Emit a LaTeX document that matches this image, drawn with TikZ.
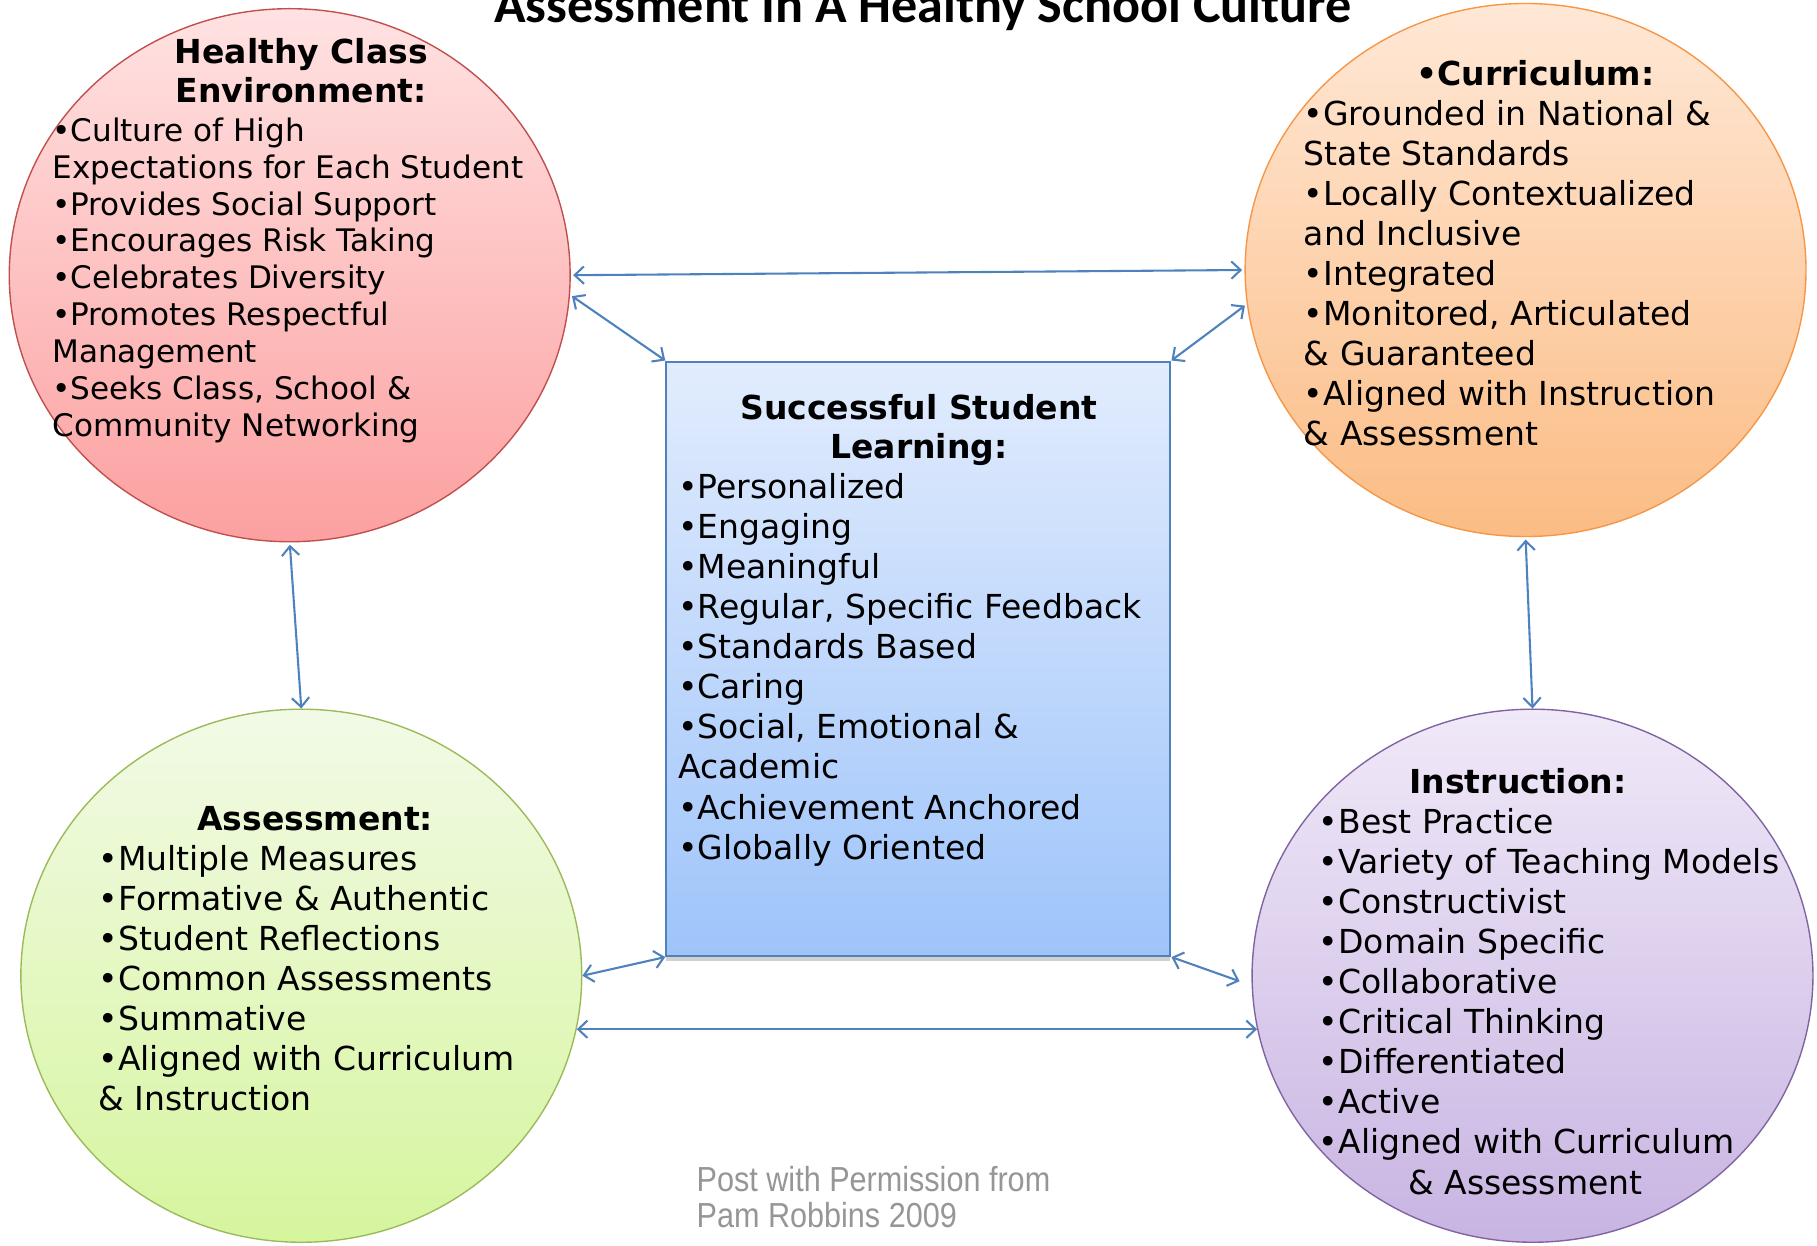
\documentclass[tikz,border=0pt]{standalone}
\usepackage{fontspec}
\setmainfont{DejaVu Sans}
\newfontfamily\titlefont{Carlito}
\newfontfamily\footfont[FakeStretch=0.88]{Liberation Sans}
\usetikzlibrary{arrows.meta,shapes.geometric,shadows}
\definecolor{arrowblue}{RGB}{79,129,189}
\definecolor{redborder}{RGB}{192,80,77}
\definecolor{redtop}{RGB}{255,226,226}
\definecolor{redbot}{RGB}{252,160,160}
\definecolor{orangeborder}{RGB}{247,150,70}
\definecolor{orangetop}{RGB}{255,232,214}
\definecolor{orangebot}{RGB}{251,188,132}
\definecolor{greenborder}{RGB}{155,187,89}
\definecolor{greentop}{RGB}{242,250,230}
\definecolor{greenbot}{RGB}{214,245,158}
\definecolor{purpleborder}{RGB}{128,100,162}
\definecolor{purpletop}{RGB}{240,233,248}
\definecolor{purplebot}{RGB}{200,180,226}
\definecolor{boxtop}{RGB}{226,236,253}
\definecolor{boxbot}{RGB}{158,196,250}
\definecolor{footgray}{RGB}{150,150,150}
\begin{document}
\begin{tikzpicture}[x=1pt,y=-1pt,
  circ/.style={ellipse, minimum width=484pt, minimum height=460pt, inner sep=0pt, line width=1.2pt},
  bodytext/.style={inner sep=0pt, anchor=base west, font=\fontsize{28.5}{34.6}\selectfont},
  headtext/.style={inner sep=0pt, anchor=base, font=\bfseries\fontsize{28.5}{33.5}\selectfont},
  link/.style={draw=arrowblue, line width=1.8pt, >={Straight Barb[length=8pt,width=15pt]}, <->},
]
\useasboundingbox (0,0) rectangle (1568,1075);
\clip (0,0) rectangle (1568,1075);

% shapes
\node[circ, draw=redborder, top color=redtop, bottom color=redbot] (red) at (250,237.5) {};
\node[circ, draw=orangeborder, top color=orangetop, bottom color=orangebot] (orange) at (1316.5,233) {};
\node[circ, draw=greenborder, top color=greentop, bottom color=greenbot] (green) at (260,842) {};
\node[circ, draw=purpleborder, top color=purpletop, bottom color=purplebot] (purple) at (1322.5,842) {};
\node[draw=arrowblue, line width=1.8pt, top color=boxtop, bottom color=boxbot,
      minimum width=435pt, minimum height=513pt, inner sep=0pt,
      drop shadow={shadow xshift=0pt, shadow yshift=-4pt, opacity=0.3, fill=black!60}] (box) at (792.5,568.5) {};

% title
\node[inner sep=0pt, anchor=base, font=\titlefont\bfseries\fontsize{45}{50}\selectfont] (title) at (796.5,19) {Assessment In A Healthy School Culture};

% healthy class environment
\node[headtext] (redhead) at (260,55) {\begin{tabular}[t]{@{}c@{}}Healthy Class\\Environment:\end{tabular}};
\node[bodytext, font=\fontsize{26.8}{31.8}\selectfont] (redbody) at (45,122) {\begin{tabular}[t]{@{}l@{}}
•Culture of High\\
Expectations for Each Student\\
•Provides Social Support\\
•Encourages Risk Taking\\
•Celebrates Diversity\\
•Promotes Respectful\\
Management\\
•Seeks Class, School \&\\
Community Networking\end{tabular}};

% curriculum
\node[headtext] (orangehead) at (1325,74) {•Curriculum:};
\node[bodytext] (orangebody) at (1125,108) {\begin{tabular}[t]{@{}l@{}}
•Grounded in National \&\\
State Standards\\
•Locally Contextualized\\
and Inclusive\\
•Integrated\\
•Monitored, Articulated\\
\& Guaranteed\\
•Aligned with Instruction\\
\& Assessment\end{tabular}};

% successful student learning
\node[headtext] (boxhead) at (793,362) {\begin{tabular}[t]{@{}c@{}}Successful Student\\Learning:\end{tabular}};
\node[bodytext] (boxbody) at (585,430) {\begin{tabular}[t]{@{}l@{}}
•Personalized\\
•Engaging\\
•Meaningful\\
•Regular, Specific Feedback\\
•Standards Based\\
•Caring\\
•Social, Emotional \&\\
Academic\\
•Achievement Anchored\\
•Globally Oriented\end{tabular}};

% assessment
\node[headtext] (greenhead) at (272,717) {Assessment:};
\node[bodytext] (greenbody) at (85,751) {\begin{tabular}[t]{@{}l@{}}
•Multiple Measures\\
•Formative \& Authentic\\
•Student Reflections\\
•Common Assessments\\
•Summative\\
•Aligned with Curriculum\\
\& Instruction\end{tabular}};

% instruction
\node[headtext] (purplehead) at (1310,685) {Instruction:};
\node[bodytext] (purplebody) at (1138,719) {\begin{tabular}[t]{@{}l@{}}
•Best Practice\\
•Variety of Teaching Models\\
•Constructivist\\
•Domain Specific\\
•Collaborative\\
•Critical Thinking\\
•Differentiated\\
•Active\\
•Aligned with Curriculum\\
\hspace*{77pt}\& Assessment\end{tabular}};

% footer
\node[inner sep=0pt, anchor=base west, text=footgray, font=\footfont\fontsize{30}{31}\selectfont] (foot) at (601,1028) {\begin{tabular}[t]{@{}l@{}}Post with Permission from\\Pam Robbins 2009\end{tabular}};

% connectors
\draw[link, shorten <=2pt, shorten >=2pt] (red.east) -- (orange.west);
\draw[link, shorten <=2pt] (red.-4) -- (box.north west);
\draw[link, shorten >=2pt] (box.north east) -- (orange.187.5);
\draw[link, shorten <=2pt] (red.south) -- (green.north);
\draw[link, shorten <=2pt] (orange.south) -- (purple.north);
\draw[link] (green.east) -- (box.south west);
\draw[link, shorten >=11pt] (box.south east) -- (purple.182);
\draw[link] (green.-11) -- (purple.191);
\end{tikzpicture}
\end{document}
